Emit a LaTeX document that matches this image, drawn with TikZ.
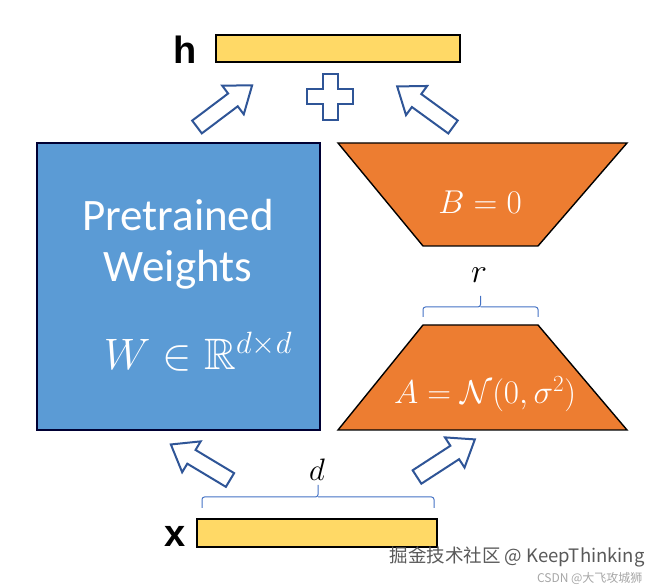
\documentclass[tikz,border=0pt]{standalone}
\usepackage{fix-cm}
\usepackage{amssymb}
\usepackage{fontspec}
\setmainfont{Carlito}
\newfontfamily\armfont{Liberation Sans}
\newfontfamily\cjkfont{Noto Sans CJK SC}
\definecolor{wblue}{HTML}{5B9BD5}
\definecolor{aorange}{HTML}{ED7D31}
\definecolor{vyellow}{HTML}{FFD966}
\definecolor{arrowblue}{HTML}{2F5597}
\definecolor{bracecol}{HTML}{4472C4}
\tikzset{
  vecbar/.style={draw=black, line width=1.5pt, fill=vyellow},
  blockarrow/.style={draw=arrowblue, line width=2pt, fill=white, line join=miter},
  trap/.style={draw=black, line width=1.4pt, fill=aorange},
  bracestyle/.style={draw=bracecol, line width=1pt, rounded corners=2.5pt},
  wtext/.style={text=white, font=\fontsize{45}{48}\selectfont},
  mtext/.style={text=white, font=\fontsize{33}{36}\selectfont},
  lbl/.style={font=\armfont\bfseries\fontsize{38}{40}\selectfont},
}
\newcommand{\blockarr}[4]{% name, x, y, angle
  \begin{scope}[shift={(#2,#3)}, rotate=#4]
    \draw[blockarrow] (0,-8) -- (45,-8) -- (45,-18) -- (69,0) -- (45,18) -- (45,8) -- (0,8) -- cycle;
    \coordinate (#1) at (34,0);
  \end{scope}}
\begin{document}
\begin{tikzpicture}[x=1pt,y=1pt]
\useasboundingbox (0,0) rectangle (662,588);
% top bar h
\node[vecbar, minimum width=244pt, minimum height=27pt, inner sep=0pt] (hbar) at (338,539.5) {};
\node[lbl, anchor=center] (hlab) at (185,538) {h};
% plus sign
\draw[blockarrow] (322.5,514) -- (337.5,514) -- (337.5,498.5) -- (353,498.5) -- (353,483.5) -- (337.5,483.5) -- (337.5,468) -- (322.5,468) -- (322.5,483.5) -- (307,483.5) -- (307,498.5) -- (322.5,498.5) -- cycle;
\coordinate (plus) at (330,491);
% top arrows
\blockarr{ta1}{197}{461}{37}
\blockarr{ta2}{453}{461}{144}
% pretrained weights
\node[draw=black!80!blue, line width=1.4pt, fill=wblue, minimum width=283pt, minimum height=287pt, inner sep=0pt] (W) at (178.5,301.5) {};
\node[wtext] (pt1) at (178,373) {Pretrained};
\node[wtext] (pt2) at (178,318) {Weights};
\node[text=white, font=\fontsize{44}{48}\selectfont] (pt3) at (198,236) {$W\in\mathbb{R}^{d\times d}$};
% B trapezoid
\draw[trap] (338,445) -- (627,445) -- (538,342) -- (423,342) -- cycle;
\node[mtext] (Blab) at (480,386) {$B=0$};
% brace r
\draw[bracestyle] (423,271) -- (423,281) -- (480.5,281) -- (480.5,292) (480.5,281) -- (538,281) -- (538,271);
\node[font=\fontsize{34}{36}\selectfont] (rlab) at (479,313) {$r$};
% A trapezoid
\draw[trap] (423,263) -- (538,263) -- (627,158) -- (338,158) -- cycle;
\node[mtext] (Alab) at (485,194) {$A=\mathcal{N}(0,\sigma^2)$};
% bottom arrows
\blockarr{ba1}{230}{108}{149}
\blockarr{ba2}{417}{111}{33}
% brace d
\draw[bracestyle] (202,80) -- (202,91) -- (318,91) -- (318,103) (318,91) -- (434,91) -- (434,80);
\node[font=\fontsize{31}{34}\selectfont] (dlab) at (317,118) {$d$};
% bottom bar x
\node[vecbar, minimum width=240pt, minimum height=28pt, inner sep=0pt] (xbar) at (317,55) {};
\node[lbl] (xlab) at (175,52) {x};
% watermarks
\node[text=black!65, font=\cjkfont\fontsize{18.5}{21}\selectfont, anchor=west] (wm1) at (386,31) {掘金技术社区 @ KeepThinking};
\node[text=black!35, font=\cjkfont\fontsize{12}{14}\selectfont, anchor=east] (wm2) at (646,10) {CSDN @大飞攻城狮};
\end{tikzpicture}
\end{document}
